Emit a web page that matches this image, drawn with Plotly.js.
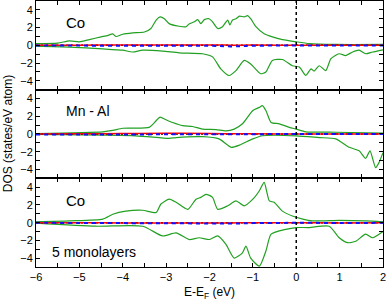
<!DOCTYPE html>
<html><head><meta charset="utf-8">
<script src="https://cdn.plot.ly/plotly-3.0.1.min.js"></script>
<style>html,body{margin:0;padding:0;background:#fff}#chart{width:386px;height:305px}</style>
</head><body><div id="chart"></div>
<script>
// Panel 1: Co (top)
const coTopUpX = [-6.00,-5.50,-5.23,-5.00,-4.77,-4.50,-4.35,-4.23,-4.16,-4.00,-3.77,-3.50,-3.35,-3.23,-3.14,-3.04,-2.93,-2.70,-2.54,-2.47,-2.35,-2.27,-2.20,-2.12,-2.01,-1.93,-1.81,-1.70,-1.58,-1.53,-1.47,-1.39,-1.31,-1.20,-1.12,-1.05,-0.93,-0.74,-0.55,-0.32,0.00,0.30,0.91,2.00];
const coTopUpY = [0.2,0.25,0.5,0.4,0.65,0.95,1.1,1.3,1.0,1.25,1.4,1.5,1.9,2.85,3.2,3.0,2.45,2.15,2.1,2.4,2.65,2.9,2.45,2.9,3.0,2.65,1.9,2.1,2.85,2.3,2.85,3.0,3.3,3.2,3.35,3.0,2.1,1.3,0.95,0.65,0.4,0.2,0.1,0.1];
const coTopDnX = [-6.00,-5.23,-4.46,-4.00,-3.77,-3.54,-3.08,-2.70,-2.16,-1.93,-1.74,-1.55,-1.39,-1.20,-1.05,-0.82,-0.70,-0.55,-0.32,-0.09,0.07,0.22,0.34,0.41,0.53,0.68,0.80,0.99,1.14,1.30,1.45,1.60,1.76,2.00];
const coTopDnY = [-0.1,-0.2,-0.4,-0.55,-0.75,-0.55,-0.65,-0.85,-0.95,-1.3,-2.65,-3.4,-2.85,-1.7,-2.1,-3.2,-3.0,-1.7,-1.6,-2.3,-2.45,-3.4,-2.65,-2.9,-2.3,-2.85,-1.5,-0.95,-1.15,-0.75,-0.55,-0.95,-0.75,-0.5];

// Panel 2: Mn - Al (middle)
const mnAlUpX = [-6.00,-4.46,-4.23,-4.00,-3.39,-3.23,-3.14,-3.00,-2.85,-2.62,-2.39,-2.16,-1.85,-1.62,-1.43,-1.24,-1.00,-0.85,-0.78,-0.70,-0.58,-0.39,-0.16,0.00,0.22,0.91,2.00];
const mnAlUpY = [0.05,0.25,0.4,0.65,0.75,1.5,1.9,1.6,1.3,0.95,0.85,0.55,0.5,0.35,0.55,1.15,2.65,3.0,3.2,2.65,1.3,1.15,0.75,0.55,0.25,0.2,0.1];
const mnAlDnX = [-6.00,-3.70,-2.93,-2.77,-2.16,-1.78,-1.50,-1.31,-1.00,-0.78,0.00,0.53,0.91,1.22,1.45,1.60,1.70,1.83,1.91,2.00];
const mnAlDnY = [-0.05,-0.2,-0.5,-0.4,-0.3,-0.55,-1.5,-1.25,-0.55,-0.2,-0.2,-0.4,-0.55,-1.5,-1.9,-2.75,-1.9,-3.8,-3.2,-2.1];

// Panel 3: Co, 5 monolayers (bottom)
const coBotUpX = [-6.00,-5.23,-4.46,-4.23,-3.93,-3.54,-3.23,-3.12,-2.93,-2.77,-2.50,-2.31,-2.20,-2.08,-1.93,-1.81,-1.58,-1.39,-1.20,-1.00,-0.85,-0.74,-0.62,-0.51,-0.32,-0.09,0.15,0.37,0.99,1.60,2.00];
const coBotUpY = [0.1,0.2,0.4,0.95,1.3,1.4,1.15,2.1,2.65,2.3,1.5,2.65,2.85,3.2,2.85,1.5,1.9,2.45,1.9,2.65,3.6,4.55,2.45,2.3,1.3,0.75,0.4,0.2,0.25,0.2,0.1];
const coBotDnX = [-6.00,-4.62,-3.54,-3.08,-2.77,-2.47,-2.24,-2.00,-1.81,-1.62,-1.43,-1.24,-1.16,-1.05,-0.85,-0.70,-0.58,-0.24,0.00,0.30,0.76,0.99,1.18,1.37,1.60,1.76,2.00];
const coBotDnY = [-0.05,-0.4,-0.4,-1.5,-1.15,-1.9,-1.7,-1.9,-1.5,-2.45,-4.0,-3.4,-2.65,-4.0,-4.9,-3.2,-1.3,-0.75,-0.55,-0.55,-0.4,-1.7,-2.25,-2.1,-1.3,-1.7,-1.0];

// Small partial contributions (red, blue dashed, black dotted) per panel
const partX = [-6,-5,-4,-3,-2,-1.5,-1,0,1,2];
const redTop = [0.02,0.02,0.03,0.04,0.04,0.02,0.03,0.0,0.0,0.0];
const blueTop = [-0.03,-0.03,-0.05,-0.05,-0.05,-0.12,-0.05,-0.02,-0.02,-0.02];
const blackTop = [0.0,0.0,0.0,0.0,0.0,0.0,0.0,0.0,0.0,0.0];
const redMid = [0.0,0.02,0.05,0.08,0.05,0.02,0.02,0.0,0.0,0.0];
const blueMid = [-0.05,-0.05,-0.06,-0.03,-0.02,-0.02,-0.02,0.0,0.0,0.0];
const blackMid = [0.0,0.0,0.0,0.0,0.0,0.0,0.0,0.0,0.0,0.0];
const redBot = [0.0,0.0,-0.03,-0.03,-0.03,-0.03,0.0,0.0,-0.03,0.0];
const blueBot = [-0.02,-0.03,-0.05,-0.07,-0.09,-0.1,-0.05,-0.02,-0.03,-0.02];
const blackBot = [0.0,0.0,0.0,0.0,0.0,0.0,0.0,0.0,0.0,0.0];

const panelLabels = ["Co","Mn - Al","Co"];
const extraLabel = "5 monolayers";
const xTitle = "E-E<sub>F</sub> (eV)";
const yTitle = "DOS (states/eV atom)";

const green = "#22a022";
function gl(x,y,xa,ya){return {x:x,y:y,xaxis:xa,yaxis:ya,mode:"lines",line:{color:green,width:1.2,shape:"spline",smoothing:0.6},hoverinfo:"skip"};}
function pl(y,xa,ya,color,dash,w){return {x:partX,y:y,xaxis:xa,yaxis:ya,mode:"lines",line:{color:color,width:w,dash:dash,shape:"spline"},hoverinfo:"skip"};}

const data = [
  gl(coTopUpX,coTopUpY,"x","y"), gl(coTopDnX,coTopDnY,"x","y"),
  pl(blackTop,"x","y","#000","2px,3px",1.5), pl(redTop,"x","y","#ff0000","solid",1.5), pl(blueTop,"x","y","#1010ff","4px,4px",2),
  gl(mnAlUpX,mnAlUpY,"x2","y2"), gl(mnAlDnX,mnAlDnY,"x2","y2"),
  pl(blackMid,"x2","y2","#000","2px,3px",1.5), pl(redMid,"x2","y2","#ff0000","solid",1.5), pl(blueMid,"x2","y2","#1010ff","4px,4px",2),
  gl(coBotUpX,coBotUpY,"x3","y3"), gl(coBotDnX,coBotDnY,"x3","y3"),
  pl(blackBot,"x3","y3","#000","2px,3px",1.5), pl(redBot,"x3","y3","#ff0000","solid",1.5), pl(blueBot,"x3","y3","#1010ff","4px,4px",2)
];

const font = {family:"Liberation Sans, Arial, sans-serif", size:11, color:"#000"};
function xax(anchor, labels){
  return {anchor:anchor, range:[-6,2], dtick:1, tick0:-6, ticks:"inside", ticklen:4, tickwidth:1, tickcolor:"#000",
    showline:true, linecolor:"#000", linewidth:1, mirror:"allticks", showgrid:false, zeroline:false,
    showticklabels:labels, ticklabeloverflow:"allow", tickfont:{family:font.family,size:11,color:"#000"},
    minor:{dtick:0.5, ticks:"inside", ticklen:4, tickcolor:"#000", showgrid:false}};
}
function yax(anchor, dom){
  return {anchor:anchor, domain:dom, range:[-5,5], dtick:2, tick0:0, ticks:"inside", ticklen:4, tickwidth:1, tickcolor:"#000",
    showline:true, linecolor:"#000", linewidth:1, mirror:"allticks", showgrid:false, zeroline:false,
    tickfont:{family:font.family,size:11,color:"#000"},
    minor:{dtick:1, ticks:"inside", ticklen:4, tickcolor:"#000", showgrid:false}};
}
const h = 1/3;
const layout = {
  width:386, height:305, margin:{l:36,r:3,t:1,b:38},
  paper_bgcolor:"#fff", plot_bgcolor:"#fff", showlegend:false, font:font,
  xaxis: Object.assign(xax("y", false), {matches:"x3"}),
  xaxis2: Object.assign(xax("y2", false), {matches:"x3"}),
  xaxis3: Object.assign(xax("y3", true), {title:{text:xTitle, font:{family:font.family,size:12}, standoff:5}}),
  yaxis: yax("x",[2*h,1]),
  yaxis2: yax("x2",[h,2*h]),
  yaxis3: yax("x3",[0,h]),
  shapes:[{type:"line", xref:"x3", yref:"paper", x0:0, x1:0, y0:0, y1:1, line:{color:"#000", width:1.5, dash:"dot"}}],
  annotations:[
    {text:panelLabels[0], xref:"x", yref:"y", x:-5.35, y:2.6, xanchor:"left", yanchor:"middle", showarrow:false, font:{family:font.family,size:15}},
    {text:panelLabels[1], xref:"x2", yref:"y2", x:-5.35, y:2.55, xanchor:"left", yanchor:"middle", showarrow:false, font:{family:font.family,size:14}},
    {text:panelLabels[2], xref:"x3", yref:"y3", x:-5.35, y:2.45, xanchor:"left", yanchor:"middle", showarrow:false, font:{family:font.family,size:15}},
    {text:extraLabel, xref:"x3", yref:"y3", x:-5.68, y:-3.35, xanchor:"left", yanchor:"middle", showarrow:false, font:{family:font.family,size:14}},
    {text:yTitle, xref:"paper", yref:"paper", x:-0.08, y:0.5, xanchor:"center", yanchor:"middle", textangle:-90, showarrow:false, font:{family:font.family,size:12}}
  ]
};
Plotly.newPlot("chart", data, layout, {staticPlot:true, displayModeBar:false});
</script></body></html>
